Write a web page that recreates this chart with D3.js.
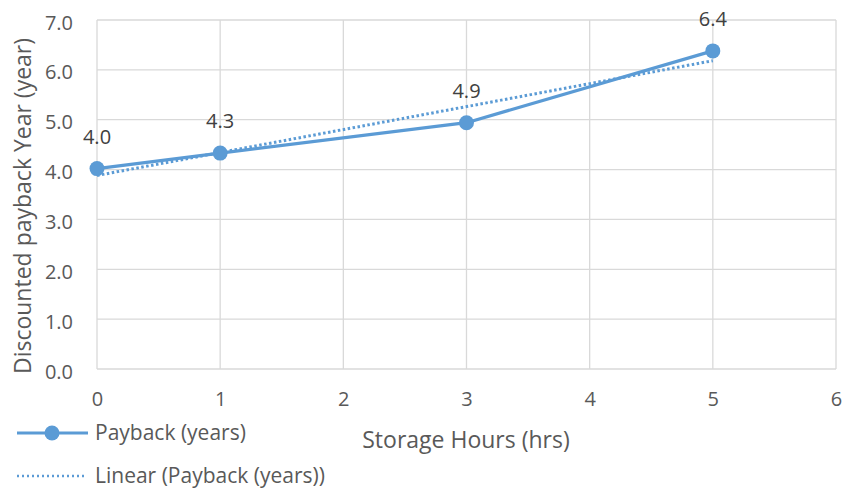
<!DOCTYPE html>
<html>
<head>
<meta charset="utf-8">
<script src="https://cdn.jsdelivr.net/npm/d3@7"></script>
<style>
  html, body { margin: 0; padding: 0; background: #fff; }
  svg { display: block; font-family: "Open Sans", "Noto Sans", sans-serif; }
</style>
</head>
<body>
<svg id="chart" width="842" height="491"></svg>
<script>
// Storage hours vs discounted payback
const storageHours = [0, 1, 3, 5];
const paybackYears = [4.02, 4.33, 4.94, 6.38];
const xTicks = [0, 1, 2, 3, 4, 5, 6];
const yTicks = [0, 1, 2, 3, 4, 5, 6, 7];

const seriesName = "Payback (years)";
const trendName = "Linear (Payback (years))";
const xTitle = "Storage Hours (hrs)";
const yTitle = "Discounted payback Year (year)";

const blue = "#5b9bd5";
const textColor = "#595959";
const gridColor = "#d9d9d9";

const svg = d3.select("#chart");
const plot = { left: 97, right: 836, top: 20, bottom: 369 };

const x = d3.scaleLinear().domain([0, 6]).range([plot.left, plot.right]);
const y = d3.scaleLinear().domain([0, 7]).range([plot.bottom, plot.top]);

// gridlines
svg.append("g")
  .selectAll("line.h")
  .data(yTicks)
  .join("line")
  .attr("x1", plot.left).attr("x2", plot.right)
  .attr("y1", d => y(d)).attr("y2", d => y(d))
  .attr("stroke", gridColor).attr("stroke-width", 1.3);

svg.append("g")
  .selectAll("line.v")
  .data(xTicks)
  .join("line")
  .attr("x1", d => x(d)).attr("x2", d => x(d))
  .attr("y1", plot.top).attr("y2", plot.bottom)
  .attr("stroke", gridColor).attr("stroke-width", 1.3);

// axes (labels only; lines drawn as gridlines)
const yAxis = svg.append("g")
  .attr("transform", `translate(${plot.left},0)`)
  .call(d3.axisLeft(y).tickValues(yTicks).tickFormat(d3.format(".1f")).tickSize(0).tickPadding(24));
yAxis.select(".domain").remove();
yAxis.selectAll("text").attr("fill", textColor).attr("dy", "0.45em").style("font-size", "20px")
  .style("font-family", "'Open Sans', sans-serif");

const xAxis = svg.append("g")
  .attr("transform", `translate(0,${plot.bottom})`)
  .call(d3.axisBottom(x).tickValues(xTicks).tickFormat(d3.format("d")).tickSize(0).tickPadding(23));
xAxis.select(".domain").remove();
xAxis.selectAll("text").attr("fill", textColor).style("font-size", "20px")
  .style("font-family", "'Open Sans', sans-serif");

// axis titles
svg.append("text")
  .attr("x", 466).attr("y", 448)
  .attr("text-anchor", "middle")
  .attr("fill", textColor).style("font-size", "23px")
  .text(xTitle);

svg.append("text")
  .attr("transform", `translate(31,206) rotate(-90)`)
  .attr("text-anchor", "middle")
  .attr("fill", textColor).style("font-size", "23px")
  .text(yTitle);

// linear trendline (least squares)
const mx = d3.mean(storageHours), my = d3.mean(paybackYears);
const sxy = d3.sum(storageHours, (v, i) => (v - mx) * (paybackYears[i] - my));
const sxx = d3.sum(storageHours, v => (v - mx) ** 2);
const slope = sxy / sxx, intercept = my - slope * mx;
const trendX = d3.extent(storageHours);

svg.append("line")
  .attr("x1", x(trendX[0])).attr("y1", y(intercept + slope * trendX[0]))
  .attr("x2", x(trendX[1])).attr("y2", y(intercept + slope * trendX[1]))
  .attr("stroke", blue).attr("stroke-width", 3)
  .attr("stroke-dasharray", "2.5 2.5");

// series line
const pts = storageHours.map((h, i) => [h, paybackYears[i]]);
svg.append("path")
  .datum(pts)
  .attr("fill", "none")
  .attr("stroke", blue).attr("stroke-width", 3.2)
  .attr("stroke-linejoin", "round")
  .attr("d", d3.line().x(d => x(d[0])).y(d => y(d[1])));

svg.append("g")
  .selectAll("circle")
  .data(pts)
  .join("circle")
  .attr("cx", d => x(d[0])).attr("cy", d => y(d[1]))
  .attr("r", 7.5).attr("fill", blue);

// data labels
svg.append("g")
  .selectAll("text")
  .data(pts)
  .join("text")
  .attr("x", d => x(d[0])).attr("y", d => y(d[1]) - 25)
  .attr("text-anchor", "middle")
  .attr("fill", "#404040").style("font-size", "20px")
  .text(d => d3.format(".1f")(d[1]));

// legend
const leg = svg.append("g");
leg.append("line").attr("x1", 17).attr("x2", 88).attr("y1", 433).attr("y2", 433)
  .attr("stroke", blue).attr("stroke-width", 3.2);
leg.append("circle").attr("cx", 52).attr("cy", 433).attr("r", 7.5).attr("fill", blue);
leg.append("text").attr("x", 95).attr("y", 440)
  .attr("fill", textColor).style("font-size", "21px").text(seriesName);

leg.append("line").attr("x1", 17).attr("x2", 85).attr("y1", 476).attr("y2", 476)
  .attr("stroke", blue).attr("stroke-width", 2.5)
  .attr("stroke-dasharray", "2 3");
leg.append("text").attr("x", 95).attr("y", 483)
  .attr("fill", textColor).style("font-size", "21px").text(trendName);
</script>
</body>
</html>
